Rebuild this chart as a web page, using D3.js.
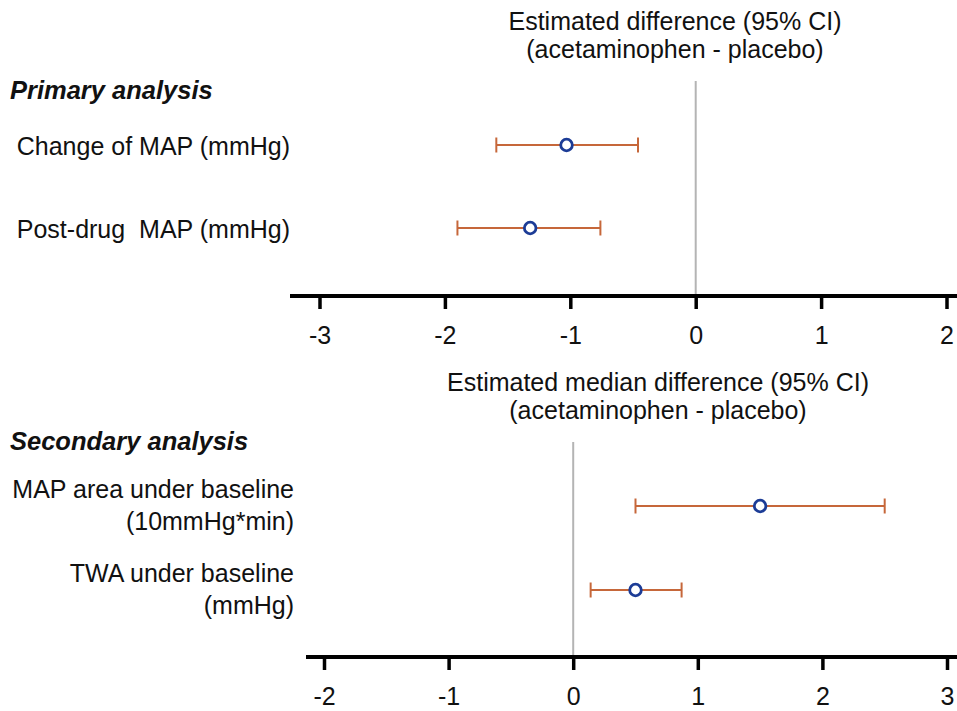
<!DOCTYPE html>
<html>
<head>
<meta charset="utf-8">
<script src="https://cdn.jsdelivr.net/npm/d3@7"></script>
<style>
  body { margin: 0; background: #fff; }
  svg { font-family: "Liberation Sans", Arial, sans-serif; }
  text { white-space: pre; }
</style>
</head>
<body>
<svg id="chart" width="957" height="711"></svg>
<script>
// primary analysis
const primaryLabels = [["Change of MAP (mmHg)"], ["Post-drug  MAP (mmHg)"]];
const primaryEst = [-1.03, -1.32];
const primaryLo = [-1.59, -1.90];
const primaryHi = [-0.46, -0.76];
const primaryTicks = [-3, -2, -1, 0, 1, 2];
const primaryTitle = ["Estimated difference (95% CI)", "(acetaminophen - placebo)"];

// secondary analysis
const secondaryLabels = [["MAP area under baseline", "(10mmHg*min)"], ["TWA under baseline", "(mmHg)"]];
const secondaryEst = [1.50, 0.50];
const secondaryLo = [0.50, 0.14];
const secondaryHi = [2.50, 0.87];
const secondaryTicks = [-2, -1, 0, 1, 2, 3];
const secondaryTitle = ["Estimated median difference (95% CI)", "(acetaminophen - placebo)"];

const svg = d3.select("#chart");
const barColor = "#c6673a", dotColor = "#1c3c96";

function panel(cfg) {
  const { labels, est, lo, hi, ticks, title, heading, xRange, rows, axisY, refTop, axisStart, titleX, titleY, headY, labelX } = cfg;
  const rowsData = labels.map((l, i) => ({ l, est: est[i], lo: lo[i], hi: hi[i] }));
  const x = d3.scaleLinear().domain(d3.extent(ticks)).range(xRange);
  const y = d3.scalePoint().domain(d3.range(labels.length)).range(rows);
  const g = svg.append("g");

  // title
  g.append("text")
    .attr("text-anchor", "middle")
    .style("font-size", "25px").attr("fill", "#111")
    .selectAll("tspan").data(title).join("tspan")
      .attr("x", titleX).attr("y", (d, i) => titleY + i * 27.5)
      .text(d => d);

  g.append("text")
    .attr("x", 10).attr("y", headY)
    .style("font-size", "25.5px").style("font-weight", "bold").style("font-style", "italic")
    .attr("fill", "#111")
    .text(heading);

  // reference line at zero
  g.append("line")
    .attr("x1", x(0)).attr("x2", x(0))
    .attr("y1", refTop).attr("y2", axisY)
    .attr("stroke", "#b4b4b4").attr("stroke-width", 2);

  // axis
  const axis = g.append("g")
    .attr("transform", `translate(0,${axisY})`)
    .call(d3.axisBottom(x).tickValues(ticks).tickSize(13).tickSizeOuter(0).tickPadding(17).tickFormat(d3.format("d")));
  axis.select(".domain").remove();
  axis.append("line")
    .attr("x1", axisStart).attr("x2", 957)
    .attr("stroke", "#000").attr("stroke-width", 4);
  axis.selectAll(".tick line").attr("stroke", "#000").attr("stroke-width", 3.5);
  axis.selectAll(".tick text")
    .style("font-size", "25px").style("font-family", "Liberation Sans, Arial, sans-serif")
    .attr("fill", "#111").text(d => d < 0 ? "-" + Math.abs(d) : d);

  // row labels
  const lab = g.selectAll(".lab").data(rowsData).join("text")
    .attr("class", "lab")
    .attr("text-anchor", "end")
    .style("font-size", "25px").attr("fill", "#111");
  lab.selectAll("tspan").data((d, i) => d.l.map((s, k) => ({ s, k, n: d.l.length, i }))).join("tspan")
    .attr("x", labelX)
    .attr("y", d => y(d.i) + (d.n > 1 ? -8 + d.k * 32 : 10))
    .text(d => d.s);

  // CI bars
  const ci = g.selectAll(".ci").data(rowsData).join("g").attr("class", "ci")
    .attr("stroke", barColor).attr("stroke-width", 2);
  ci.append("line")
    .attr("x1", d => x(d.lo)).attr("x2", d => x(d.hi))
    .attr("y1", (d, i) => y(i)).attr("y2", (d, i) => y(i));
  ci.append("line")
    .attr("x1", d => x(d.lo)).attr("x2", d => x(d.lo))
    .attr("y1", (d, i) => y(i) - 7.5).attr("y2", (d, i) => y(i) + 7.5);
  ci.append("line")
    .attr("x1", d => x(d.hi)).attr("x2", d => x(d.hi))
    .attr("y1", (d, i) => y(i) - 7.5).attr("y2", (d, i) => y(i) + 7.5);

  g.selectAll(".pt").data(rowsData).join("circle")
    .attr("class", "pt")
    .attr("cx", d => x(d.est)).attr("cy", (d, i) => y(i))
    .attr("r", 5.8)
    .attr("fill", "#fff").attr("stroke", dotColor).attr("stroke-width", 2.8);
}

panel({
  labels: primaryLabels, est: primaryEst, lo: primaryLo, hi: primaryHi,
  ticks: primaryTicks, title: primaryTitle, heading: "Primary analysis",
  xRange: [319.5, 946.5], rows: [145, 228], axisY: 296, refTop: 81, axisStart: 290,
  titleX: 675, titleY: 30, headY: 99, labelX: 290
});

panel({
  labels: secondaryLabels, est: secondaryEst, lo: secondaryLo, hi: secondaryHi,
  ticks: secondaryTicks, title: secondaryTitle, heading: "Secondary analysis",
  xRange: [324, 947], rows: [506, 590], axisY: 657, refTop: 442, axisStart: 306,
  titleX: 658, titleY: 391, headY: 450, labelX: 294
});
</script>
</body>
</html>
